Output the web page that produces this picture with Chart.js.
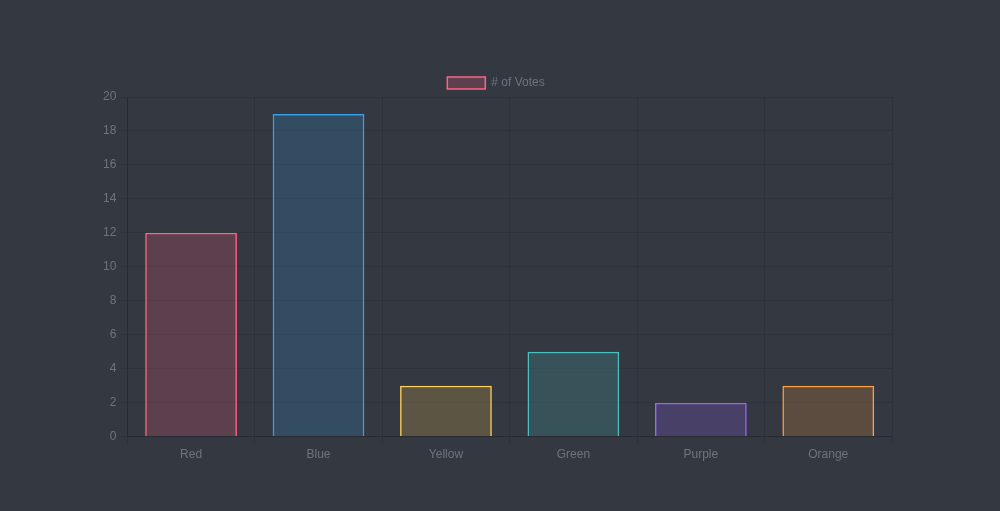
<!DOCTYPE html>
<html lang="en">
<head>
    <meta charset="UTF-8">
    <title># of Votes</title>
    <script src="https://cdn.jsdelivr.net/npm/chart.js"></script>
    <style>
        html, body { margin: 0; padding: 0; background: #343840; }
        .chart-box { width: 1000px; height: 511px; }
    </style>
</head>
<body>
    <div class="chart-box">
        <canvas id="votesChart"></canvas>
    </div>
    <script>
        const categories = ["Red", "Blue", "Yellow", "Green", "Purple", "Orange"];
        const votes = [12, 19, 3, 5, 2, 3];
        const fills = [
            "rgba(255, 99, 132, 0.2)",
            "rgba(54, 162, 235, 0.2)",
            "rgba(255, 206, 86, 0.2)",
            "rgba(75, 192, 192, 0.2)",
            "rgba(153, 102, 255, 0.2)",
            "rgba(255, 159, 64, 0.2)"
        ];
        const borders = [
            "rgba(255, 99, 132, 1)",
            "rgba(54, 162, 235, 1)",
            "rgba(255, 206, 86, 1)",
            "rgba(75, 192, 192, 1)",
            "rgba(153, 102, 255, 1)",
            "rgba(255, 159, 64, 1)"
        ];

        Chart.defaults.font.family = "'Liberation Sans', Arial, sans-serif";
        Chart.defaults.font.size = 12;
        Chart.defaults.color = "#70747a";

        let ctx = document.getElementById("votesChart").getContext("2d");
        new Chart(ctx, {
            type: "bar",
            data: {
                labels: categories,
                datasets: [{
                    label: "# of Votes",
                    data: votes,
                    backgroundColor: fills,
                    borderColor: borders,
                    borderWidth: 1.5
                }]
            },
            options: {
                responsive: true,
                maintainAspectRatio: false,
                animation: false,
                layout: { padding: { left: 100, right: 108, top: 67, bottom: 46 } },
                plugins: {
                    // legend is clamped so the plot starts closer under it
                    legend: { maxHeight: 30, labels: { boxWidth: 38, boxHeight: 12, padding: 10 } },
                    tooltip: { enabled: false }
                },
                scales: {
                    x: {
                        grid: { color: "rgba(0, 0, 0, 0.1)" },
                        border: { color: "rgba(0, 0, 0, 0.15)" }
                    },
                    y: {
                        beginAtZero: true,
                        min: 0,
                        max: 20,
                        ticks: { stepSize: 2 },
                        grid: { color: "rgba(0, 0, 0, 0.1)" },
                        border: { color: "rgba(0, 0, 0, 0.15)" }
                    }
                }
            }
        });
    </script>
</body>
</html>
